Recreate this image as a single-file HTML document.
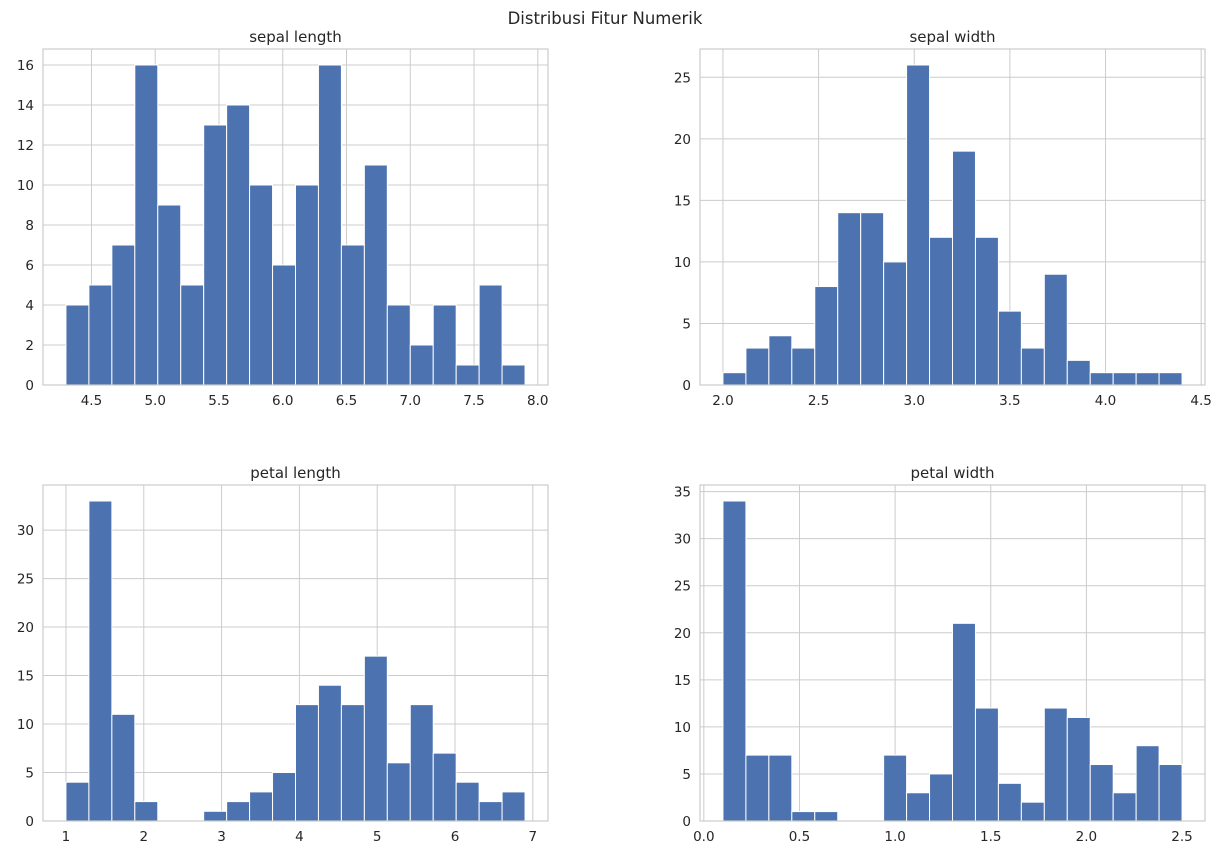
<!DOCTYPE html>
<html><head><meta charset="utf-8"><style>body{margin:0;background:#fff}svg{display:block}text{font-family:"DejaVu Sans","Liberation Sans",sans-serif;fill:#262626}</style></head>
<body>
<svg id="chart" width="1223" height="858" viewBox="0 0 1223 858">
<text x="605" y="24" text-anchor="middle" font-size="16.5">Distribusi Fitur Numerik</text>
</svg>
<script>
const titles = ["sepal length","sepal width","petal length","petal width"];
const binMin = [4.3, 2.0, 1.0, 0.1];
const binMax = [7.9, 4.4, 6.9, 2.5];
const countsSepalLength = [4,5,7,16,9,5,13,14,10,6,10,16,7,11,4,2,4,1,5,1];
const countsSepalWidth = [1,3,4,3,8,14,14,10,26,12,19,12,6,3,9,2,1,1,1,1];
const countsPetalLength = [4,33,11,2,0,0,1,2,3,5,12,14,12,17,6,12,7,4,2,3];
const countsPetalWidth = [34,7,7,1,1,0,0,7,3,5,21,12,4,2,12,11,6,3,8,6];
const xTicks0 = ["4.5","5.0","5.5","6.0","6.5","7.0","7.5","8.0"];
const xTicks1 = ["2.0","2.5","3.0","3.5","4.0","4.5"];
const xTicks2 = ["1","2","3","4","5","6","7"];
const xTicks3 = ["0.0","0.5","1.0","1.5","2.0","2.5"];
const yStep = [2,5,5,5];

const counts=[countsSepalLength,countsSepalWidth,countsPetalLength,countsPetalWidth];
const xTicks=[xTicks0,xTicks1,xTicks2,xTicks3];
const boxes=[[43,49,548,385],[700,49,1205,385],[43,485,548,821],[700,485,1205,821]];
const svg=document.getElementById('chart');
const NS='http://www.w3.org/2000/svg';
function mk(tag,attrs,parent){const e=document.createElementNS(NS,tag);for(const k in attrs)e.setAttribute(k,attrs[k]);parent.appendChild(e);return e;}
for(let p=0;p<4;p++){
  const [L,T,R,B]=boxes[p];const c=counts[p];
  const lo=binMin[p],hi=binMax[p],pad=(hi-lo)*0.05;
  const x0=lo-pad,x1=hi+pad;
  const ymax=Math.max(...c)*1.05;
  const sx=v=>L+(v-x0)/(x1-x0)*(R-L);
  const sy=v=>B-v/ymax*(B-T);
  const g=mk('g',{},svg);
  
  
  for(let v=0;v<=ymax;v+=yStep[p]){
    const y=sy(v);
    const gl=mk('line',{x1:L,x2:R,y1:y,y2:y,stroke:'#cccccc','stroke-width':1},g);
    
    
    const t=mk('text',{x:L-9,y:y+5,'text-anchor':'end','font-size':13.5},g);
    
    
    t.textContent=String(v);
  }
  xTicks[p].forEach(s=>{
    const x=sx(parseFloat(s));
    const gl=mk('line',{x1:x,x2:x,y1:T,y2:B,stroke:'#cccccc','stroke-width':1},g);
    
    
    const t=mk('text',{x:x,y:B+20,'text-anchor':'middle','font-size':13.5},g);
    
    
    t.textContent=s;
  });
  const w=(hi-lo)/c.length;
  c.forEach((v,i)=>{
    const xa=sx(lo+i*w),xb=sx(lo+(i+1)*w);
    const r=mk('rect',{x:xa,y:sy(v),width:xb-xa,height:B-sy(v),fill:'#4c72b0',stroke:'#ffffff','stroke-width':1},g);
    
    
  });
  const fr=mk('rect',{x:L,y:T,width:R-L,height:B-T,fill:'none',stroke:'#cccccc','stroke-width':1.2},g);
  
  
  const tt=mk('text',{x:(L+R)/2,y:T-7,'text-anchor':'middle','font-size':15},g);
  
  
  tt.textContent=titles[p];
}
</script>
</body></html>
